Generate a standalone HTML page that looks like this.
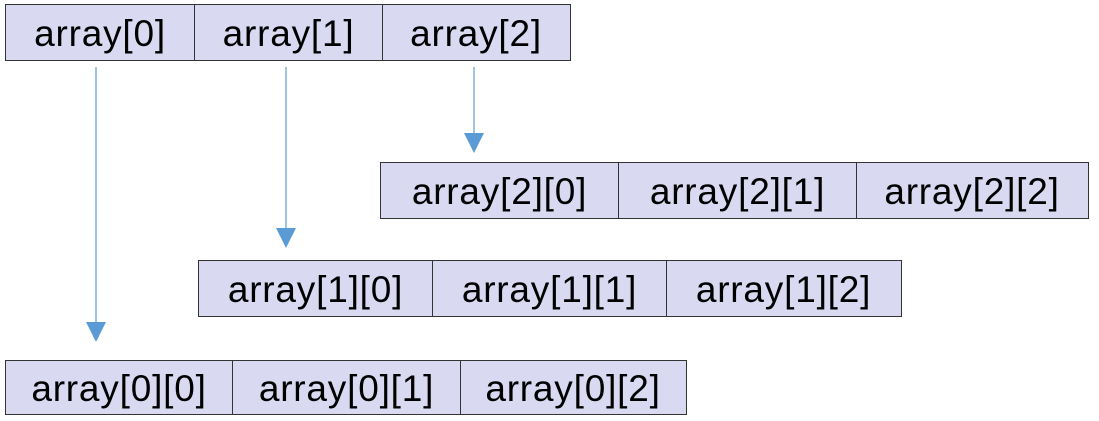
<!DOCTYPE html>
<html><head><style>
body{margin:0;width:1099px;height:421px;background:#fff;position:relative;overflow:hidden;font-family:"Liberation Sans",sans-serif}
.r{position:absolute;display:flex;border:1.5px solid #333;box-sizing:border-box;background:#d9d9f2}
.r div{flex:none;border-right:1.5px solid #333;box-sizing:border-box;display:flex;align-items:center;justify-content:center;font-size:37px;letter-spacing:0.8px;color:#000;height:100%;padding-top:2px}
.r div:last-child{border-right:none}
</style></head><body>
<svg width="1099" height="421" style="position:absolute;left:0;top:0">
<g stroke="#9dc3e6" stroke-width="2">
<line x1="96" y1="67" x2="96" y2="322"/>
<line x1="286" y1="67" x2="286" y2="228"/>
<line x1="474" y1="67" x2="474" y2="134"/>
</g>
<g fill="#5b9bd5">
<polygon points="86,322 106,322 96,342"/>
<polygon points="276,228 296,228 286,248"/>
<polygon points="464,133 484,133 474,153"/>
</g>
</svg>
<div class="r" style="left:5px;top:4px;width:566px;height:57px"><div style="width:189px">array[0]</div><div style="width:188px">array[1]</div><div style="width:186px">array[2]</div></div>
<div class="r" style="left:380px;top:162px;width:709px;height:57px"><div style="width:238px">array[2][0]</div><div style="width:238px">array[2][1]</div><div style="width:230px">array[2][2]</div></div>
<div class="r" style="left:198px;top:260px;width:704px;height:57px"><div style="width:234px">array[1][0]</div><div style="width:234px">array[1][1]</div><div style="width:233px">array[1][2]</div></div>
<div class="r" style="left:5px;top:360px;width:682px;height:55px"><div style="width:227px">array[0][0]</div><div style="width:228px">array[0][1]</div><div style="width:224px">array[0][2]</div></div>
</body></html>
